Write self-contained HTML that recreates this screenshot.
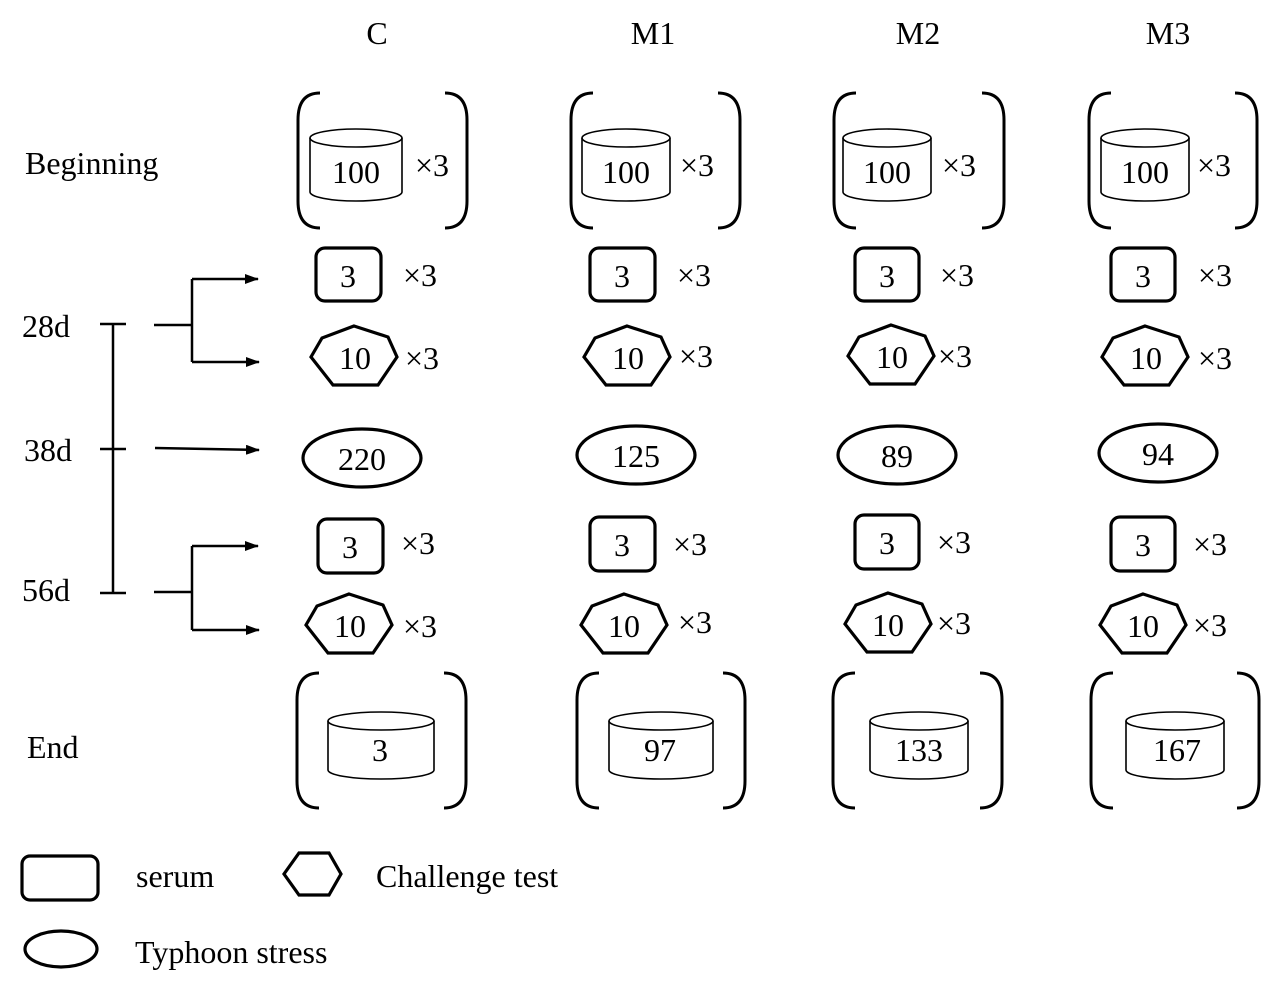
<!DOCTYPE html>
<html><head><meta charset="utf-8"><style>
html,body{margin:0;padding:0;background:#fff;}
svg{display:block;}
text{font-family:"Liberation Serif",serif;font-size:32px;fill:#000;}
</style></head><body>
<svg width="1268" height="991" viewBox="0 0 1268 991" xmlns="http://www.w3.org/2000/svg">
<defs>
<marker id="ar" markerWidth="14" markerHeight="10" refX="13" refY="5" orient="auto" markerUnits="userSpaceOnUse">
<path d="M0,0 L14,5 L0,10 Z" fill="#000"/></marker>
</defs>
<g text-anchor="middle">
<text x="377" y="44">C</text><text x="653" y="44">M1</text><text x="918" y="44">M2</text><text x="1168" y="44">M3</text>
</g>
<text x="25" y="174">Beginning</text>
<text x="22" y="337">28d</text>
<text x="24" y="461">38d</text>
<text x="22" y="601">56d</text>
<text x="27" y="758">End</text>

<g stroke="#000" stroke-width="2.5" fill="none">
<line x1="113" y1="324" x2="113" y2="593"/>
<line x1="100" y1="324" x2="126" y2="324"/>
<line x1="100" y1="449" x2="126" y2="449"/>
<line x1="100" y1="593" x2="126" y2="593"/>
<line x1="154" y1="325" x2="192" y2="325"/>
<line x1="192" y1="279" x2="192" y2="362"/>
<line x1="192" y1="279" x2="258" y2="279" marker-end="url(#ar)"/>
<line x1="192" y1="362" x2="259" y2="362" marker-end="url(#ar)"/>
<line x1="155" y1="448" x2="259" y2="450" marker-end="url(#ar)"/>
<line x1="154" y1="592" x2="192" y2="592"/>
<line x1="192" y1="546" x2="192" y2="630"/>
<line x1="192" y1="546" x2="258" y2="546" marker-end="url(#ar)"/>
<line x1="192" y1="630" x2="259" y2="630" marker-end="url(#ar)"/>
</g>

<g stroke="#000" fill="none" stroke-width="3">
<path d="M320,93 Q298,93 298,120 L298,201 Q298,228 320,228"/>
<path d="M445,93 Q467,93 467,120 L467,201 Q467,228 445,228"/>
<path d="M593,93 Q571,93 571,120 L571,201 Q571,228 593,228"/>
<path d="M718,93 Q740,93 740,120 L740,201 Q740,228 718,228"/>
<path d="M856,93 Q834,93 834,120 L834,201 Q834,228 856,228"/>
<path d="M982,93 Q1004,93 1004,120 L1004,201 Q1004,228 982,228"/>
<path d="M1111,93 Q1089,93 1089,120 L1089,201 Q1089,228 1111,228"/>
<path d="M1235,93 Q1257,93 1257,120 L1257,201 Q1257,228 1235,228"/>
<path d="M319,673 Q297,673 297,700 L297,781 Q297,808 319,808"/>
<path d="M444,673 Q466,673 466,700 L466,781 Q466,808 444,808"/>
<path d="M599,673 Q577,673 577,700 L577,781 Q577,808 599,808"/>
<path d="M723,673 Q745,673 745,700 L745,781 Q745,808 723,808"/>
<path d="M855,673 Q833,673 833,700 L833,781 Q833,808 855,808"/>
<path d="M980,673 Q1002,673 1002,700 L1002,781 Q1002,808 980,808"/>
<path d="M1113,673 Q1091,673 1091,700 L1091,781 Q1091,808 1113,808"/>
<path d="M1237,673 Q1259,673 1259,700 L1259,781 Q1259,808 1237,808"/>
</g>
<g stroke="#000" fill="none" stroke-width="1.6">
<path d="M310,138 L310,192 A46,9 0 0 0 402,192 L402,138"/><ellipse cx="356" cy="138" rx="46" ry="9"/>
<path d="M582,138 L582,192 A44,9 0 0 0 670,192 L670,138"/><ellipse cx="626" cy="138" rx="44" ry="9"/>
<path d="M843,138 L843,192 A44,9 0 0 0 931,192 L931,138"/><ellipse cx="887" cy="138" rx="44" ry="9"/>
<path d="M1101,138 L1101,192 A44,9 0 0 0 1189,192 L1189,138"/><ellipse cx="1145" cy="138" rx="44" ry="9"/>
<path d="M328,721 L328,770 A53,9 0 0 0 434,770 L434,721"/><ellipse cx="381" cy="721" rx="53" ry="9"/>
<path d="M609,721 L609,770 A52,9 0 0 0 713,770 L713,721"/><ellipse cx="661" cy="721" rx="52" ry="9"/>
<path d="M870,721 L870,770 A49,9 0 0 0 968,770 L968,721"/><ellipse cx="919" cy="721" rx="49" ry="9"/>
<path d="M1126,721 L1126,770 A49,9 0 0 0 1224,770 L1224,721"/><ellipse cx="1175" cy="721" rx="49" ry="9"/>
</g>
<g stroke="#000" fill="none" stroke-width="3.2">
<rect x="316" y="248" width="65" height="53" rx="9"/>
<rect x="590" y="248" width="65" height="53" rx="9"/>
<rect x="855" y="248" width="64" height="53" rx="9"/>
<rect x="1111" y="248" width="64" height="53" rx="9"/>
<rect x="318" y="519" width="65" height="54" rx="9"/>
<rect x="590" y="517" width="65" height="54" rx="9"/>
<rect x="855" y="515" width="64" height="54" rx="9"/>
<rect x="1111" y="517" width="64" height="54" rx="9"/>
<path transform="translate(354,356)" d="M0,-30 L34,-19 L43,1 L24,29 L-21,29 L-43,1 L-32,-18 Z"/>
<path transform="translate(627,356)" d="M0,-30 L34,-19 L43,1 L24,29 L-21,29 L-43,1 L-32,-18 Z"/>
<path transform="translate(891,355)" d="M0,-30 L34,-19 L43,1 L24,29 L-21,29 L-43,1 L-32,-18 Z"/>
<path transform="translate(1145,356)" d="M0,-30 L34,-19 L43,1 L24,29 L-21,29 L-43,1 L-32,-18 Z"/>
<path transform="translate(349,624)" d="M0,-30 L34,-19 L43,1 L24,29 L-21,29 L-43,1 L-32,-18 Z"/>
<path transform="translate(624,624)" d="M0,-30 L34,-19 L43,1 L24,29 L-21,29 L-43,1 L-32,-18 Z"/>
<path transform="translate(888,623)" d="M0,-30 L34,-19 L43,1 L24,29 L-21,29 L-43,1 L-32,-18 Z"/>
<path transform="translate(1143,624)" d="M0,-30 L34,-19 L43,1 L24,29 L-21,29 L-43,1 L-32,-18 Z"/>
<ellipse cx="362" cy="458" rx="59" ry="29"/>
<ellipse cx="636" cy="455" rx="59" ry="29"/>
<ellipse cx="897" cy="455" rx="59" ry="29"/>
<ellipse cx="1158" cy="453" rx="59" ry="29"/>
<rect x="22" y="856" width="76" height="44" rx="8"/>
<path d="M299,853 L329,853 L341,874 L329,895 L299,895 L284,874 Z"/>
<ellipse cx="61" cy="949" rx="36" ry="18"/>
</g>
<g text-anchor="middle">
<text x="356" y="183">100</text><text x="626" y="183">100</text><text x="887" y="183">100</text><text x="1145" y="183">100</text>
<text x="348" y="287">3</text><text x="622" y="287">3</text><text x="887" y="287">3</text><text x="1143" y="287">3</text>
<text x="355" y="369">10</text><text x="628" y="369">10</text><text x="892" y="368">10</text><text x="1146" y="369">10</text>
<text x="362" y="470">220</text><text x="636" y="467">125</text><text x="897" y="467">89</text><text x="1158" y="465">94</text>
<text x="350" y="558">3</text><text x="622" y="556">3</text><text x="887" y="554">3</text><text x="1143" y="556">3</text>
<text x="350" y="637">10</text><text x="624" y="637">10</text><text x="888" y="636">10</text><text x="1143" y="637">10</text>
<text x="380" y="761">3</text><text x="660" y="761">97</text><text x="919" y="761">133</text><text x="1177" y="761">167</text>
</g>
<g>
<text x="415" y="176">×3</text><text x="680" y="176">×3</text><text x="942" y="176">×3</text><text x="1197" y="176">×3</text>
<text x="403" y="286">×3</text><text x="677" y="286">×3</text><text x="940" y="286">×3</text><text x="1198" y="286">×3</text>
<text x="405" y="369">×3</text><text x="679" y="367">×3</text><text x="938" y="367">×3</text><text x="1198" y="369">×3</text>
<text x="401" y="554">×3</text><text x="673" y="555">×3</text><text x="937" y="553">×3</text><text x="1193" y="555">×3</text>
<text x="403" y="637">×3</text><text x="678" y="633">×3</text><text x="937" y="634">×3</text><text x="1193" y="636">×3</text>
</g>
<text x="136" y="887">serum</text>
<text x="376" y="887">Challenge test</text>
<text x="135" y="963">Typhoon stress</text>
</svg>
</body></html>
